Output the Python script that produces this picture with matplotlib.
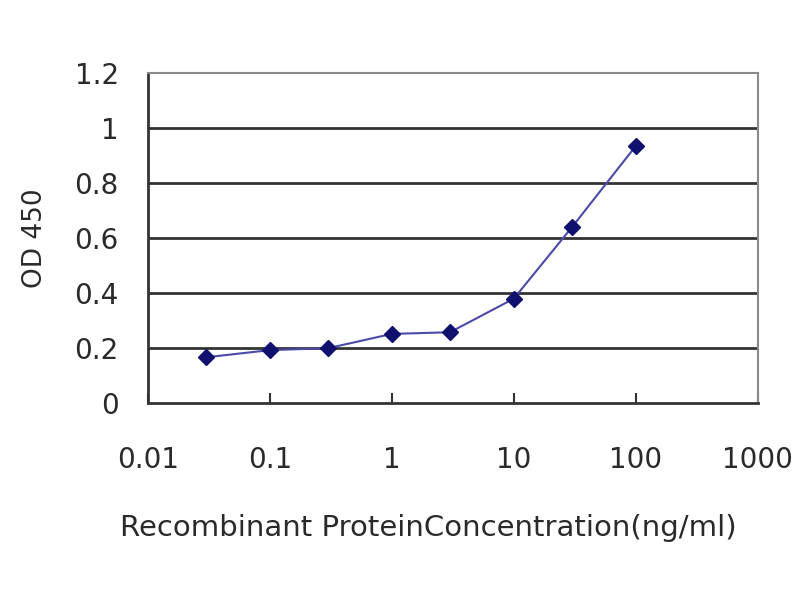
import matplotlib
matplotlib.use("Agg")
import matplotlib.pyplot as plt
from matplotlib.ticker import FuncFormatter

conc = [0.03, 0.1, 0.3, 1, 3, 10, 30, 100]
od450 = [0.167, 0.193, 0.2, 0.252, 0.258, 0.38, 0.64, 0.935]

xticks = [0.01, 0.1, 1, 10, 100, 1000]
xtick_labels = ["0.01", "0.1", "1", "10", "100", "1000"]
yticks = [0, 0.2, 0.4, 0.6, 0.8, 1.0, 1.2]

plt.rcParams['font.family'] = ['DejaVu Sans']

fig = plt.figure(figsize=(8, 6), dpi=100)
ax = fig.add_axes([0.185, 0.328, 0.762, 0.55])

for y in yticks[1:-1]:
    ax.axhline(y, color="#333333", lw=2.0, zorder=1)

ax.plot(conc, od450, color="#4a4aa8", lw=1.5, marker="D", markersize=8,
        markerfacecolor="#10106e", markeredgecolor="#10106e", zorder=3)

ax.set_xscale("log")
ax.set_xlim(0.01, 1000)
ax.set_ylim(0, 1.2)
ax.set_xticks(xticks)
ax.set_xticklabels(xtick_labels)
ax.xaxis.set_minor_locator(matplotlib.ticker.NullLocator())
ax.set_yticks(yticks)
ax.yaxis.set_major_formatter(FuncFormatter(lambda v, p: "%g" % v))

ax.tick_params(axis="x", direction="in", length=7, width=1.5, color="#333333",
               pad=31, labelsize=20, labelcolor="#2a2a2a")
ax.tick_params(axis="y", length=0, pad=21, labelsize=20, labelcolor="#2a2a2a")

for side in ["left", "bottom"]:
    ax.spines[side].set_color("#333333")
    ax.spines[side].set_linewidth(2.0)
for side in ["top", "right"]:
    ax.spines[side].set_color("#8a8a8a")
    ax.spines[side].set_linewidth(1.5)

ax.set_xlabel("Recombinant ProteinConcentration(ng/ml)", fontsize=21, color="#2a2a2a")
ax.xaxis.set_label_coords(0.46, -0.378)
ax.xaxis.label.set_va("center")
ax.set_ylabel("OD 450", fontsize=19, color="#2a2a2a")
ax.yaxis.set_label_coords(-0.185, 0.5)
ax.yaxis.label.set_va("center")

fig.savefig("out.png", dpi=100)
